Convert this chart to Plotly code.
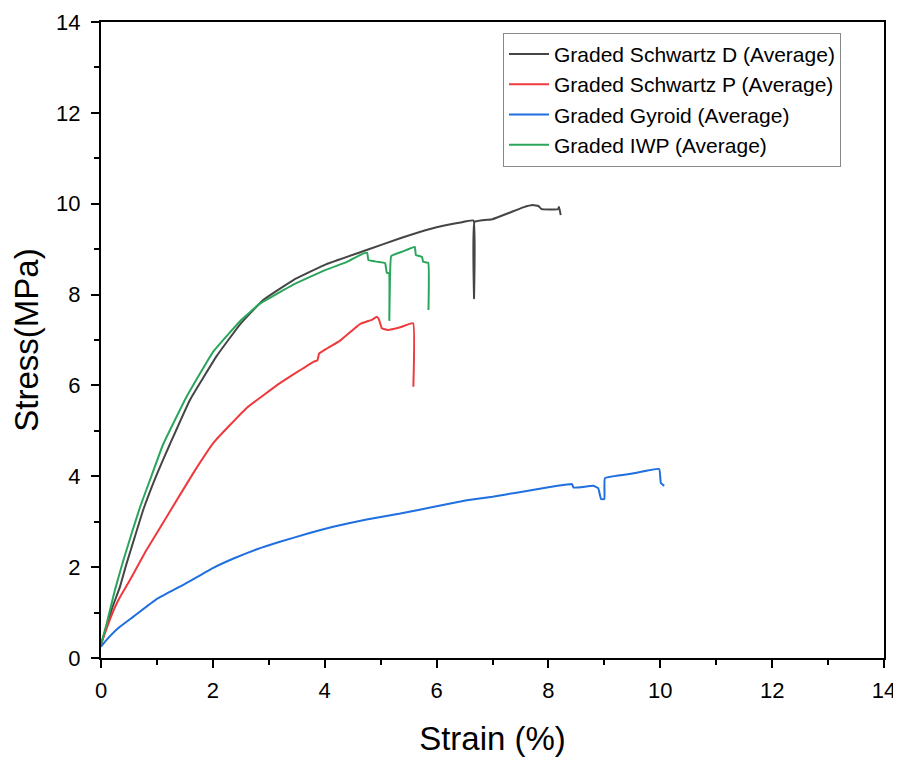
import plotly.graph_objects as go

# Graded Schwartz D (Average)
d_x = [0, 0.1, 0.2, 0.34, 0.45, 0.6, 0.76, 1.0, 1.23, 1.59, 2.07, 2.49, 2.9, 3.44, 4.03, 4.75, 5.35, 5.9, 6.4, 6.66, 6.67, 6.68, 7.0, 7.3, 7.55, 7.72, 7.82, 7.88, 8.17, 8.19, 8.22]
d_y = [0.3, 0.7, 1.1, 1.57, 2.05, 2.65, 3.28, 4.05, 4.7, 5.68, 6.65, 7.35, 7.88, 8.32, 8.67, 8.98, 9.24, 9.45, 9.58, 9.63, 7.92, 9.6, 9.66, 9.8, 9.92, 9.97, 9.95, 9.88, 9.88, 9.93, 9.75]

# Graded Schwartz P (Average)
p_x = [0, 0.16, 0.3, 0.52, 0.8, 1.17, 1.65, 2.02, 2.6, 3.2, 3.8, 3.87, 3.9, 4.27, 4.63, 4.85, 4.93, 4.97, 5.02, 5.13, 5.35, 5.58, 5.585]
p_y = [0.3, 0.85, 1.25, 1.72, 2.35, 3.1, 4.07, 4.75, 5.5, 6.05, 6.52, 6.55, 6.7, 6.98, 7.35, 7.45, 7.51, 7.45, 7.26, 7.22, 7.28, 7.37, 5.97]

# Graded Gyroid (Average)
g_x = [0, 0.1, 0.3, 0.58, 1.0, 1.47, 2.0, 2.37, 2.8, 3.2, 3.7, 4.15, 4.75, 5.35, 6.0, 6.54, 7.0, 7.43, 8.0, 8.33, 8.42, 8.45, 8.8, 8.89, 8.94, 9.0, 9.01, 9.5, 9.98, 10.01, 10.07]
g_y = [0.25, 0.4, 0.65, 0.91, 1.3, 1.61, 1.98, 2.19, 2.4, 2.56, 2.74, 2.89, 3.05, 3.18, 3.34, 3.47, 3.55, 3.64, 3.76, 3.82, 3.83, 3.75, 3.79, 3.74, 3.5, 3.5, 3.96, 4.06, 4.16, 3.85, 3.79]

# Graded IWP (Average)
w_x = [0, 0.1, 0.25, 0.4, 0.55, 0.7, 0.9, 1.11, 1.53, 2.01, 2.49, 2.84, 3.44, 4.03, 4.4, 4.63, 4.76, 4.78, 4.95, 5.08, 5.11, 5.15, 5.155, 5.165, 5.19, 5.4, 5.61, 5.63, 5.74, 5.76, 5.85, 5.855]
w_y = [0.3, 0.75, 1.5, 2.15, 2.75, 3.33, 4.0, 4.7, 5.75, 6.75, 7.42, 7.8, 8.22, 8.55, 8.72, 8.87, 8.92, 8.76, 8.72, 8.69, 8.48, 8.47, 7.44, 8.2, 8.85, 8.95, 9.05, 8.87, 8.83, 8.72, 8.7, 7.66]

names = ["Graded Schwartz D (Average)", "Graded Schwartz P (Average)",
         "Graded Gyroid (Average)", "Graded IWP (Average)"]
colors = ["#454545", "#ee3a3d", "#1f6fe0", "#2aa65c"]

fig = go.Figure()
for xs, ys, n, c in zip([d_x, p_x, g_x, w_x], [d_y, p_y, g_y, w_y], names, colors):
    fig.add_trace(go.Scatter(x=xs, y=ys, mode="lines", name=n,
                             line=dict(color=c, width=2, shape="spline", smoothing=0.3)))

FONT = "Liberation Sans, Arial, sans-serif"

axis_common = dict(
    showgrid=False, zeroline=False, automargin=False,
    showline=True, linecolor="black", linewidth=2, mirror=True,
    ticks="outside", ticklen=8, tickwidth=2, tickcolor="black",
    tickfont=dict(family=FONT, size=22, color="black"),
    minor=dict(ticks="outside", ticklen=5, tickwidth=2, tickcolor="black", dtick=1),
    range=[0, 14], dtick=2,
)

# the page places the figure 8 px from the top-left corner
fig.update_layout(
    width=893, height=750,
    margin=dict(l=93, r=17, t=14, b=100),
    plot_bgcolor="white", paper_bgcolor="white",
    font=dict(family=FONT, color="black"),
    xaxis=dict(**axis_common, ticklabelstandoff=4,
               title=dict(text="Strain (%)", font=dict(size=33), standoff=24)),
    yaxis=dict(**axis_common, ticklabelstandoff=6,
               title=dict(text="Stress(MPa)", font=dict(size=33), standoff=8)),
    legend=dict(x=0.5134, y=0.983, xanchor="left", yanchor="top",
                bordercolor="#888888", borderwidth=1, bgcolor="white",
                font=dict(size=21, family=FONT),
                tracegroupgap=0, itemwidth=40),
    showlegend=True,
)

fig.write_html("out.html")
